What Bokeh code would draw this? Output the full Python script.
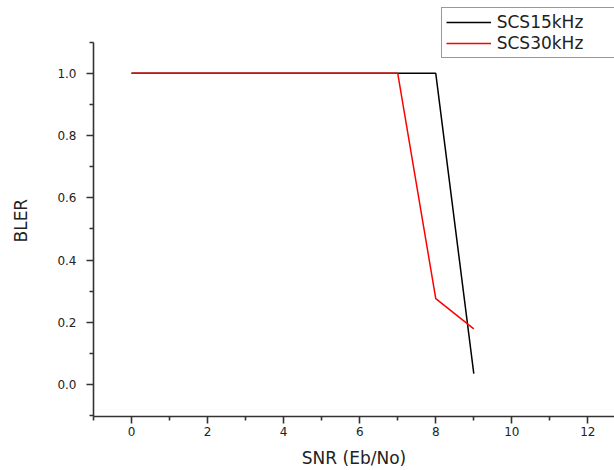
from bokeh.plotting import figure
from bokeh.models import FixedTicker, NumeralTickFormatter, Legend, LegendItem, Range1d, Title
from bokeh.embed import file_html
from bokeh.resources import INLINE

# data
snr = [0, 1, 2, 3, 4, 5, 6, 7, 8, 9]
bler_15khz = [1.0, 1.0, 1.0, 1.0, 1.0, 1.0, 1.0, 1.0, 1.0, 0.035]
bler_30khz = [1.0, 1.0, 1.0, 1.0, 1.0, 1.0, 1.0, 1.0, 0.276, 0.179]
series_names = ["SCS15kHz", "SCS30kHz"]
x_major = [0, 2, 4, 6, 8, 10, 12]
x_minor = [-1, 1, 3, 5, 7, 9, 11, 13]
y_major = [0.0, 0.2, 0.4, 0.6, 0.8, 1.0]
y_minor = [-0.1, 0.1, 0.3, 0.5, 0.7, 0.9, 1.1]

FONT = "DejaVu Sans"
INK = "#222222"

p = figure(width=614, height=470, output_backend="svg", toolbar_location=None,
           x_range=Range1d(-1.0, 12.70), y_range=Range1d(-0.1026, 1.234),
           min_border_left=93, min_border_right=0, min_border_top=0, min_border_bottom=53)
p.outline_line_color = None
p.xgrid.visible = False
p.ygrid.visible = False

r1 = p.line(snr, bler_15khz, line_color="black", line_width=1.5)
r2 = p.line(snr, bler_30khz, line_color="red", line_width=1.5)

for ax in (p.xaxis[0], p.yaxis[0]):
    ax.axis_line_color = "#333333"
    ax.axis_line_width = 1.6
    ax.major_tick_line_color = "#333333"
    ax.major_tick_line_width = 1.6
    ax.minor_tick_line_color = "#333333"
    ax.minor_tick_line_width = 1.6
    ax.major_tick_in = 0
    ax.major_tick_out = 7
    ax.minor_tick_in = 0
    ax.minor_tick_out = 4
    ax.major_label_text_font = FONT
    ax.major_label_text_font_size = "12px"
    ax.major_label_text_color = INK
    ax.axis_label_text_font = FONT
    ax.axis_label_text_font_size = "17px"
    ax.axis_label_text_font_style = "normal"
    ax.axis_label_text_color = INK

p.xaxis[0].ticker = FixedTicker(ticks=x_major, minor_ticks=x_minor)
p.yaxis[0].ticker = FixedTicker(ticks=y_major, minor_ticks=y_minor)
p.yaxis[0].formatter = NumeralTickFormatter(format="0.0")
p.yaxis[0].bounds = (-0.1026, 1.1)
p.xaxis[0].axis_label = "SNR (Eb/No)"
p.xaxis[0].major_label_standoff = 3
p.yaxis[0].major_label_standoff = 10
p.xaxis[0].axis_label_standoff = 9

# spacing panel between the y tick labels and the y-axis title
spacer = Title(text=" ", text_font_size="1px", standoff=16)
p.add_layout(spacer, "left")
ytitle = Title(text="BLER", align="left", offset=174, vertical_align="bottom",
               text_font=FONT, text_font_size="17px", text_font_style="normal",
               text_color=INK, standoff=10)
p.add_layout(ytitle, "left")

legend = Legend(items=[LegendItem(label=series_names[0], renderers=[r1]),
                       LegendItem(label=series_names[1], renderers=[r2])],
                location=(347.7, 357.7), margin=0, padding=4, spacing=1,
                glyph_width=45, glyph_height=20, label_height=20, label_standoff=6,
                label_width=113,
                label_text_font=FONT, label_text_font_size="17px", label_text_color=INK,
                border_line_color="#333333", border_line_width=1.5,
                background_fill_color="white", background_fill_alpha=1.0)
p.add_layout(legend)

open("out.html", "w").write(file_html(p, INLINE))
